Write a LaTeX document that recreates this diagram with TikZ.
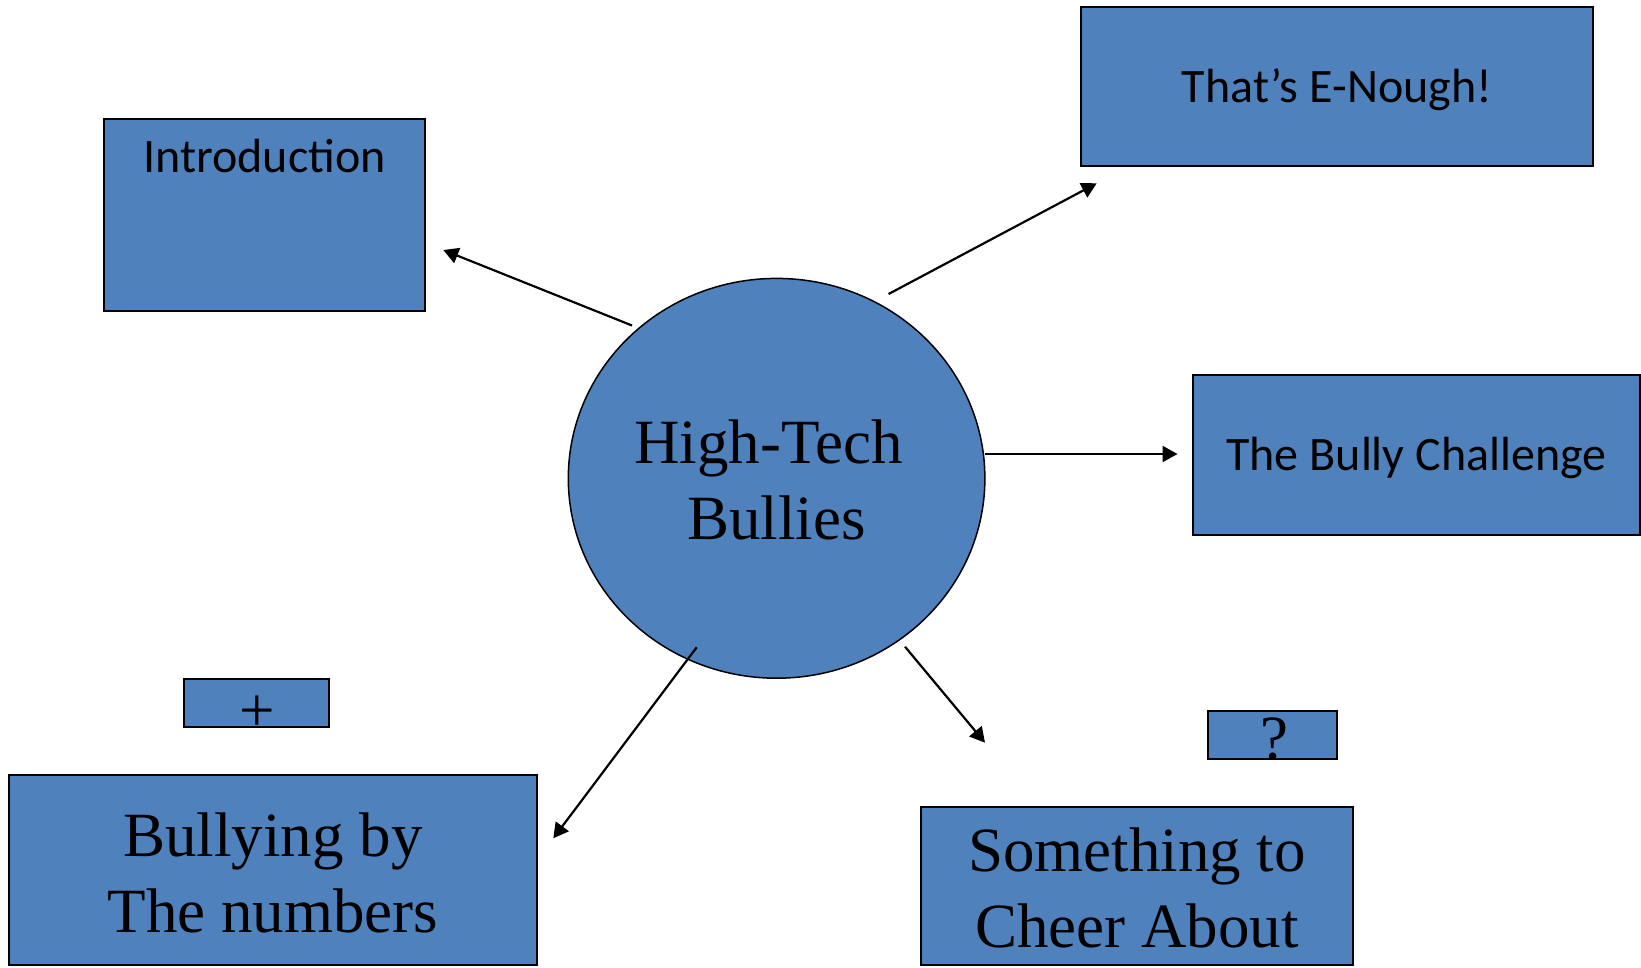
\documentclass[tikz,border=0pt]{standalone}
\usepackage{fontspec}
\usetikzlibrary{arrows.meta,shapes.geometric}
\newfontfamily\calibrifont{Carlito}
\newfontfamily\timesfont{Liberation Serif}
\definecolor{boxblue}{HTML}{4F81BD}

\begin{document}
\begin{tikzpicture}[x=10pt,y=10pt,
  box/.style={rectangle, draw=black, line width=2pt, fill=boxblue},
  hub/.style={ellipse, draw=black, line width=1.5pt, fill=boxblue},
  link/.style={draw=black, line width=2.2pt, -{Triangle[length=15pt,width=16pt]}},
  small/.style={font=\calibrifont\fontsize{48}{58}\selectfont},
  big/.style={font=\timesfont\fontsize{63}{76}\selectfont, align=center}]
\tikzstyle{every node}+=[inner sep=0pt]
\useasboundingbox (0,0) rectangle (164.1,-96.7);
\node (hub) [hub, minimum width=416.6pt, minimum height=399.8pt] at (77.66,-47.83) {};
\node (hubText) [big, anchor=base] at (77.66,-53.93) {High-Tech\hspace*{0.25em}\\Bullies};
\node (intro) [box, minimum width=320.7pt, minimum height=191.7pt] at (26.465,-21.485) {};
\node (introText) [small, anchor=base] at (26.465,-17.27) {Introduction};
\node (enough) [box, minimum width=512pt, minimum height=159.1pt] at (133.7,-8.685) {};
\node (enoughText) [small, anchor=base] at (133.7,-10.27) {That’s E-Nough!};
\node (challenge) [box, minimum width=447pt, minimum height=159.5pt] at (141.65,-45.475) {};
\node (challengeText) [small, anchor=base] at (141.65,-47.07) {The Bully Challenge};
\node (plus) [box, minimum width=145pt, minimum height=48.3pt] at (25.68,-70.285) {};
\node (plusText) [big, anchor=base] at (25.68,-73.1) {+};
\node (bullying) [box, minimum width=528pt, minimum height=190pt] at (27.3,-87) {};
\node (bullyingText) [big, anchor=base] at (27.3,-93.27) {Bullying by\\The numbers};
\node (question) [box, minimum width=129pt, minimum height=48.3pt] at (127.25,-73.485) {};
\node (questionText) [big, anchor=base] at (127.4,-75.9) {?};
\node (cheer) [box, minimum width=432pt, minimum height=158.3pt] at (113.67,-88.585) {};
\node (cheerText) [big, anchor=base] at (113.7,-94.77) {Something to\\Cheer About};
% arrow ends
\coordinate (introTail) at (63.2,-32.55);
\coordinate (introTip) at (44.33,-25);
\coordinate (enoughTail) at (88.86,-29.4);
\coordinate (enoughTip) at (109.67,-18.33);
\coordinate (challengeTail) at (98.5,-45.4);
\coordinate (challengeTip) at (117.75,-45.4);
\coordinate (bullyingTail) at (69.67,-64.73);
\coordinate (bullyingTip) at (55.33,-83.83);
\coordinate (cheerTail) at (90.5,-64.67);
\coordinate (cheerTip) at (98.5,-74.27);
\draw [link] (introTail) -- (introTip);
\draw [link] (enoughTail) -- (enoughTip);
\draw [link] (challengeTail) -- (challengeTip);
\draw [link] (bullyingTail) -- (bullyingTip);
\draw [link] (cheerTail) -- (cheerTip);
\end{tikzpicture}
\end{document}
